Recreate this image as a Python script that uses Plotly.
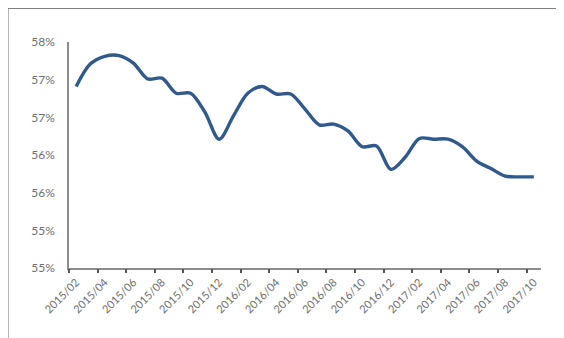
import plotly.graph_objects as go

months = ["2015/02","2015/03","2015/04","2015/05","2015/06","2015/07","2015/08","2015/09",
          "2015/10","2015/11","2015/12","2016/01","2016/02","2016/03","2016/04","2016/05",
          "2016/06","2016/07","2016/08","2016/09","2016/10","2016/11","2016/12","2017/01",
          "2017/02","2017/03","2017/04","2017/05","2017/06","2017/07","2017/08","2017/09","2017/10"]
values = [56.91, 57.21, 57.31, 57.32, 57.22, 57.01, 57.02, 56.82, 56.82, 56.57, 56.21,
          56.52, 56.82, 56.91, 56.81, 56.81, 56.61, 56.40, 56.41, 56.32, 56.11, 56.12,
          55.81, 55.97, 56.22, 56.21, 56.21, 56.11, 55.92, 55.82, 55.72, 55.71, 55.71]
y_tickvals = [54.5, 55.0, 55.5, 56.0, 56.5, 57.0, 57.5]
y_ticktext = ["55%", "55%", "56%", "56%", "57%", "57%", "58%"]

idx = list(range(len(months)))
label_idx = idx[::2]
label_text = [months[i] for i in label_idx]
boundary_ticks = [i - 0.5 for i in label_idx]

fig = go.Figure()
fig.add_trace(go.Scatter(x=idx, y=values, mode="lines",
                         line=dict(color="#30598C", width=3.4, shape="spline", smoothing=0.9),
                         hoverinfo="skip", showlegend=False))
# invisible trace to activate the tick-mark axis
fig.add_trace(go.Scatter(x=[idx[0]], y=[values[0]], xaxis="x2", mode="markers",
                         marker=dict(opacity=0), hoverinfo="skip", showlegend=False))

grey = "#8C8C8C"
font_family = "Lato, 'Open Sans', sans-serif"
xr = [-0.5, len(months) - 0.5]

# page body has an 8px margin, so the figure is 8px smaller and margins are reduced by 8
fig.update_layout(
    width=556, height=330,
    margin=dict(l=61, r=23, t=34, b=70),
    paper_bgcolor="white", plot_bgcolor="white",
    xaxis=dict(range=xr, tickmode="array", tickvals=label_idx, ticktext=label_text,
               tickangle=-45, ticks="", showgrid=False, zeroline=False,
               showline=True, linecolor=grey, linewidth=1.5,
               tickfont=dict(family=font_family, size=11, color="#6E6E6E"),
               ticklabelstandoff=2),
    xaxis2=dict(range=xr, overlaying="x", tickmode="array", tickvals=boundary_ticks,
                ticks="outside", ticklen=4, tickwidth=1.5, tickcolor="#555555",
                showticklabels=False, showgrid=False, zeroline=False, showline=False,
                side="bottom"),
    yaxis=dict(range=[54.5, 57.5], tickmode="array", tickvals=y_tickvals, ticktext=y_ticktext,
               ticks="", showgrid=False, zeroline=False, showline=True,
               linecolor=grey, linewidth=1.5,
               tickfont=dict(family=font_family, size=12, color="#6E6E6E"),
               ticklabelstandoff=10),
    shapes=[dict(type="rect", xref="paper", yref="paper",
                 x0=-0.1293, x1=1.0517, y0=-0.312, y1=1.149,
                 line=dict(color="#7F7F7F", width=1.2), layer="above")],
)

fig.write_html("out.html")
